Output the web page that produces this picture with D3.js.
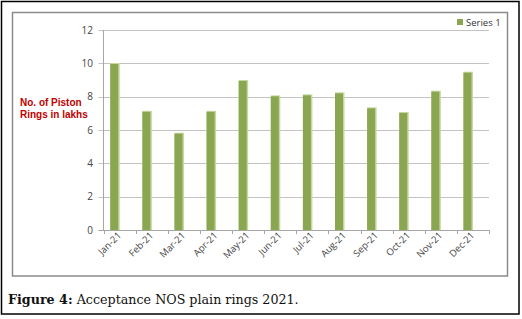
<!DOCTYPE html>
<html>
<head>
<meta charset="UTF-8">
<script src="https://d3js.org/d3.v7.min.js"></script>
<style>
  body { margin: 0; background: #fff; }
  svg { display: block; }
</style>
</head>
<body>
<svg id="chart"></svg>
<script>
  // data
  months = ["Jan-21", "Feb-21", "Mar-21", "Apr-21", "May-21", "Jun-21",
            "Jul-21", "Aug-21", "Sep-21", "Oct-21", "Nov-21", "Dec-21"];
  values = [10.02, 7.15, 5.84, 7.15, 9.0, 8.08, 8.14, 8.26, 7.36, 7.08, 8.36, 9.5];
  yTicks = [0, 2, 4, 6, 8, 10, 12];
  seriesName = "Series 1";
  axisTitle = ["No. of Piston", "Rings in lakhs"];

  width = 522;
  height = 319;
  barColor = "#8aa650";
  edgeColor = "#c5d89e";

  svg = d3.select("#chart").attr("width", width).attr("height", height);

  // outer figure border
  svg.append("rect")
      .attr("x", 1.5).attr("y", 1.5)
      .attr("width", 517.5).attr("height", 312.5)
      .attr("fill", "none").attr("stroke", "#000").attr("stroke-width", 1.5);

  // chart frame
  svg.append("rect")
      .attr("x", 12.5).attr("y", 12.5)
      .attr("width", 495).attr("height", 263.5)
      .attr("fill", "#fff").attr("stroke", "#8c8c8c").attr("stroke-width", 1.5);

  x = d3.scaleBand().domain(months).range([103.7, 489]);
  y = d3.scaleLinear().domain([0, 12]).range([230, 30]);

  // gridlines + y labels
  grid = svg.append("g");
  grid.selectAll("line").data(yTicks).enter().append("line")
      .attr("x1", 98.5).attr("x2", 489)
      .attr("y1", d => Math.round(y(d)) + 0.5).attr("y2", d => Math.round(y(d)) + 0.5)
      .attr("stroke", d => d == 0 ? "#a6a6a6" : "#c3c3c3").attr("stroke-width", 1);

  grid.selectAll("text").data(yTicks).enter().append("text")
      .attr("x", 93).attr("y", d => y(d) + 3.5)
      .attr("text-anchor", "end")
      .attr("font-family", "Open Sans, sans-serif").attr("font-size", 10)
      .attr("fill", "#444")
      .text(d => d);

  // y axis line
  svg.append("line")
      .attr("x1", 103.5).attr("x2", 103.5).attr("y1", 30).attr("y2", 230)
      .attr("stroke", "#a6a6a6");

  // x tick marks at band edges
  edges = months.map(m => x(m)).concat([x.range()[1]]);
  svg.selectAll(".xt").data(edges).enter().append("line")
      .attr("x1", d => Math.round(d) + 0.5).attr("x2", d => Math.round(d) + 0.5)
      .attr("y1", 230).attr("y2", 234)
      .attr("stroke", "#a6a6a6");

  // bars: right edge sits at the band centre
  bw = 9.5;
  bars = svg.append("g").selectAll("g").data(values).enter().append("g");
  bars.append("rect")
      .attr("x", (d, i) => x(months[i]) + x.bandwidth() / 2 - bw)
      .attr("y", d => y(d))
      .attr("width", bw)
      .attr("height", d => y(0) - y(d))
      .attr("fill", edgeColor);
  bars.append("rect")
      .attr("x", (d, i) => x(months[i]) + x.bandwidth() / 2 - bw)
      .attr("y", d => y(d) + 1)
      .attr("width", bw - 1.5)
      .attr("height", d => y(0) - y(d) - 1)
      .attr("fill", barColor);

  // rotated month labels
  svg.selectAll(".xl").data(months).enter().append("text")
      .attr("transform", d => "translate(" + (x(d) + x.bandwidth() / 2 + 2) + ",236) rotate(-45)")
      .attr("text-anchor", "end")
      .attr("font-family", "Open Sans, sans-serif").attr("font-size", 9.5)
      .attr("fill", "#444")
      .text(d => d);

  // axis title, two lines
  svg.selectAll(".yt").data(axisTitle).enter().append("text")
      .attr("x", 20).attr("y", (d, i) => 105.5 + i * 12)
      .attr("font-family", "Liberation Sans, Arial, sans-serif").attr("font-size", 10)
      .attr("font-weight", "bold").attr("fill", "#c00000")
      .text(d => d);

  // legend
  svg.append("rect")
      .attr("x", 457).attr("y", 19).attr("width", 6).attr("height", 6)
      .attr("fill", barColor);
  svg.append("text")
      .attr("x", 466).attr("y", 25.5)
      .attr("font-family", "Open Sans, sans-serif").attr("font-size", 9.5)
      .attr("fill", "#333")
      .text(seriesName);

  // caption
  cap = svg.append("text")
      .attr("x", 8).attr("y", 303.5)
      .attr("font-family", "DejaVu Serif, serif").attr("font-size", 12.7)
      .attr("fill", "#111");
  cap.append("tspan").attr("font-weight", "bold").text("Figure 4:");
  cap.append("tspan").text(" Acceptance NOS plain rings 2021.");
</script>
</body>
</html>
